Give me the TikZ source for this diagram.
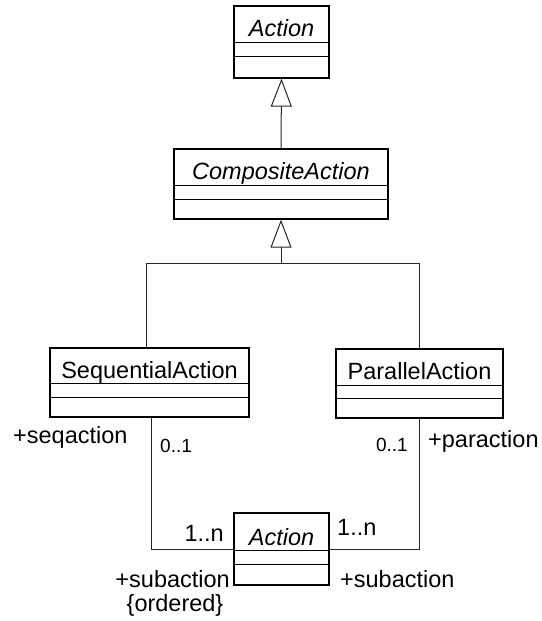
\documentclass[tikz,border=0pt]{standalone}
\usepackage{fontspec}
\setmainfont{Liberation Sans}
\usetikzlibrary{arrows.meta,calc}
\begin{document}
\begin{tikzpicture}[x=1pt,y=-1pt,
  box/.style={draw=black, line width=1.3pt, fill=white, inner sep=0pt},
  sepline/.style={draw=black, line width=1.1pt},
  cname/.style={font=\fontsize{23.5}{28}\selectfont, anchor=base, inner sep=0pt},
  lbl/.style={font=\fontsize{23.5}{28}\selectfont, inner sep=0pt},
  mult/.style={font=\fontsize{19}{22}\selectfont, inner sep=0pt},
  conn/.style={line width=1pt, draw=black!85},
  gen/.style={conn, -{Triangle[open, length=28pt, width=21pt, line width=1pt]}}
]
\useasboundingbox (0,0) rectangle (541,621);

% classes
\node[box, minimum width=95pt, minimum height=72pt] (a1) at (281.5,42) {};
\draw[sepline] ($(a1.north west)+(0,37)$) -- ($(a1.north east)+(0,37)$);
\draw[sepline] ($(a1.north west)+(0,51)$) -- ($(a1.north east)+(0,51)$);
\node[cname] (a1n) at (281.5,36) {\itshape Action};

\node[box, minimum width=214pt, minimum height=70pt] (comp) at (281,184) {};
\draw[sepline] ($(comp.north west)+(0,37)$) -- ($(comp.north east)+(0,37)$);
\draw[sepline] ($(comp.north west)+(0,51)$) -- ($(comp.north east)+(0,51)$);
\node[cname] (compn) at (281,179) {\itshape CompositeAction};

\node[box, minimum width=199pt, minimum height=69pt] (seq) at (149.5,382.5) {};
\draw[sepline] ($(seq.north west)+(0,36)$) -- ($(seq.north east)+(0,36)$);
\draw[sepline] ($(seq.north west)+(0,50)$) -- ($(seq.north east)+(0,50)$);
\node[cname] (seqn) at (149.5,378) {SequentialAction};

\node[box, minimum width=167pt, minimum height=69pt] (par) at (419.5,383.5) {};
\draw[sepline] ($(par.north west)+(0,37)$) -- ($(par.north east)+(0,37)$);
\draw[sepline] ($(par.north west)+(0,50)$) -- ($(par.north east)+(0,50)$);
\node[cname] (parn) at (419.5,379) {ParallelAction};

\node[box, minimum width=95pt, minimum height=72pt] (a2) at (281.5,549) {};
\draw[sepline] ($(a2.north west)+(0,38)$) -- ($(a2.north east)+(0,38)$);
\draw[sepline] ($(a2.north west)+(0,52)$) -- ($(a2.north east)+(0,52)$);
\node[cname] (a2n) at (281.5,545) {\itshape Action};

% generalizations
\draw[gen] (comp.north) -- (a1.south);
\coordinate (j) at (281,263);
\coordinate (jl) at (146,263);
\coordinate (jr) at (419,263);
\draw[gen] (j) -- (comp.south);
\draw[conn] (seq.north -| jl) -- (jl) -- (jr) -- (par.north -| jr);

% associations
\coordinate (sl) at (151,549);
\coordinate (sr) at (419,549);
\draw[conn] (seq.south -| sl) -- (sl) -- (sl -| a2.west);
\draw[conn] (par.south -| sr) -- (sr) -- (sr -| a2.east);

% labels
\node[lbl, anchor=base west] (l1) at (13,443) {+seqaction};
\node[mult, anchor=base west] (l2) at (160,452) {0..1};
\node[mult, anchor=base east] (l3) at (408,451) {0..1};
\node[lbl, anchor=base west] (l4) at (428,447) {+paraction};
\node[lbl, anchor=base east] (l5) at (224,541) {1..n};
\node[lbl, anchor=base west] (l6) at (337,535) {1..n};
\node[lbl, anchor=base east] (l7) at (230,587) {+subaction};
\node[lbl, anchor=base] (l8) at (175,611) {\{ordered\}};
\node[lbl, anchor=base west] (l9) at (340,587) {+subaction};
\end{tikzpicture}
\end{document}
